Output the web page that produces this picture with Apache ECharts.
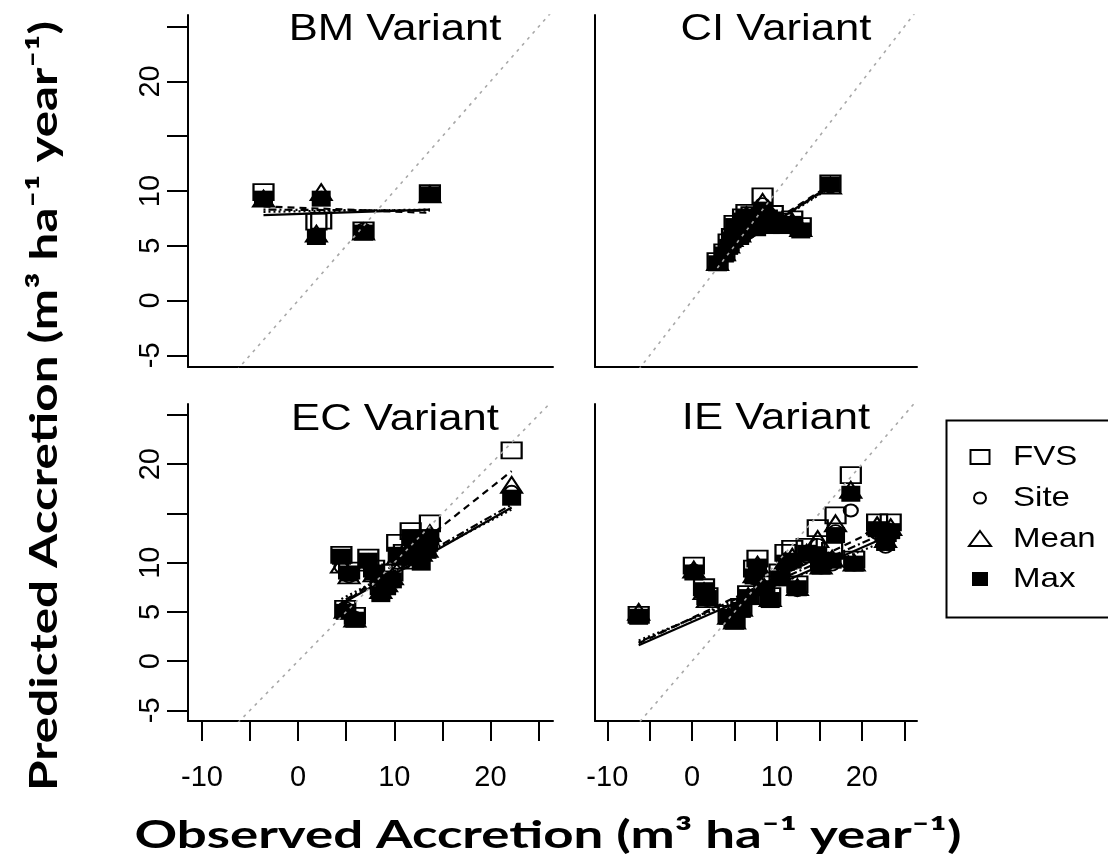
<!DOCTYPE html>
<html>
<head>
<meta charset="utf-8">
<script src="https://cdn.jsdelivr.net/npm/echarts@6/dist/echarts.min.js"></script>
<style>
  html, body { margin: 0; padding: 0; background: #fff; }
  #chart { width: 1108px; height: 865px; }
</style>
</head>
<body>
<div id="chart"></div>
<script>
// Predictor names, in legend order
const seriesNames = ['FVS', 'Site', 'Mean', 'Max'];

// Axis ticks and labelled ticks
const xTicks = [-10, -5, 0, 5, 10, 15, 20, 25];
const xTickLabels = [-10, 0, 10, 20];
const yTicks = [-5, 0, 5, 10, 15, 20, 25];
const yTickLabels = [-5, 0, 5, 10, 20];

// 1:1 reference line extent
const oneToOne = [-8, 28];

// BM variant: observed accretion and the four predictions
const bmObserved = [-3.6, 1.9, 2.4, 6.8, 13.7];
const bmFvs  = [9.9, 7.2, 7.3, 6.4, 9.8];
const bmSite = [9.4, 6.0, 9.4, 6.5, 9.6];
const bmMean = [9.3, 6.1, 9.9, 6.3, 9.7];
const bmMax  = [9.3, 5.8, 9.3, 6.2, 9.7];
// fitted lines: predicted value at lowest and highest observed value
const bmFitFvs  = [8.6, 8.0];
const bmFitSite = [8.1, 8.3];
const bmFitMean = [8.3, 8.2];
const bmFitMax  = [7.8, 8.3];

// CI variant
const ciObserved = [3.0, 3.8, 4.3, 4.7, 5.0, 5.6, 6.0, 6.4, 7.0, 7.6, 8.3, 8.8, 9.2, 9.5, 10.6, 11.8, 12.8, 16.3];
const ciFvs  = [3.6, 4.4, 5.3, 5.8, 7.0, 6.2, 7.6, 8.0, 7.8, 7.0, 9.5, 7.5, 7.1, 7.9, 7.2, 7.4, 6.8, 10.7];
const ciSite = [3.5, 4.3, 5.0, 5.6, 6.7, 6.0, 7.4, 7.7, 7.4, 6.9, 8.8, 7.3, 6.9, 7.6, 6.9, 7.1, 6.5, 10.4];
const ciMean = [3.5, 4.4, 5.1, 5.7, 6.9, 6.1, 7.5, 7.8, 7.6, 7.0, 9.0, 7.4, 7.0, 7.7, 7.0, 7.2, 6.6, 10.5];
const ciMax  = [3.4, 4.2, 4.9, 5.5, 6.8, 5.8, 7.3, 7.6, 7.2, 6.6, 8.3, 7.0, 6.8, 7.4, 6.8, 7.0, 6.4, 10.6];
const ciFitFvs  = [3.9, 10.6];
const ciFitSite = [3.8, 10.3];
const ciFitMean = [3.8, 10.4];
const ciFitMax  = [3.7, 10.5];

// EC variant
const ecObserved = [4.5, 4.9, 5.3, 5.9, 7.3, 7.9, 8.6, 9.2, 9.8, 10.3, 11.0, 11.7, 12.2, 12.8, 13.4, 13.7, 22.2];
const ecFvs  = [10.8, 5.3, 9.2, 4.6, 10.5, 9.4, 7.6, 8.3, 9.0, 12.0, 11.0, 13.2, 12.4, 11.6, 12.0, 14.0, 21.4];
const ecSite = [9.6, 5.4, 8.6, 4.4, 9.9, 8.8, 7.0, 7.7, 8.5, 10.4, 10.0, 12.0, 11.6, 10.8, 11.2, 12.8, 17.2];
const ecMean = [9.8, 5.2, 8.7, 4.3, 10.0, 8.9, 7.2, 7.9, 8.6, 10.6, 10.2, 12.2, 11.8, 11.0, 11.4, 13.0, 17.9];
const ecMax  = [10.6, 5.0, 8.9, 4.2, 10.2, 9.0, 6.8, 7.5, 8.2, 10.8, 10.6, 12.6, 11.7, 10.0, 11.2, 12.6, 16.6];
const ecFitFvs  = [5.6, 19.3];
const ecFitSite = [6.3, 15.4];
const ecFitMean = [6.0, 15.9];
const ecFitMax  = [5.8, 15.6];

// IE variant
const ieObserved = [-6.3, 0.2, 1.4, 1.8, 4.3, 5.0, 5.8, 6.6, 7.3, 7.7, 8.5, 9.2, 10.3, 11.0, 11.8, 12.4, 13.5, 14.8, 15.2, 16.5, 16.9, 18.7, 19.1, 21.8, 22.8, 23.4];
const ieFvs  = [4.7, 9.7, 7.5, 6.6, 4.8, 4.3, 5.5, 6.8, 9.4, 10.4, 7.8, 6.6, 9.0, 11.0, 11.4, 7.8, 11.6, 13.5, 10.2, 11.2, 14.8, 18.9, 10.3, 14.1, 13.0, 14.1];
const ieSite = [4.6, 9.2, 7.0, 6.2, 4.4, 4.1, 5.3, 6.4, 8.4, 9.4, 7.3, 6.3, 8.3, 9.8, 10.0, 7.2, 10.6, 11.8, 9.5, 9.8, 13.2, 15.3, 9.8, 13.0, 11.6, 13.3];
const ieMean = [5.0, 9.3, 7.1, 6.3, 4.6, 4.1, 5.4, 6.6, 8.8, 9.8, 7.5, 6.4, 8.6, 10.2, 10.6, 7.5, 11.0, 12.4, 9.7, 10.4, 14.0, 17.4, 10.0, 13.8, 12.4, 13.6];
const ieMax  = [4.5, 9.0, 7.2, 6.4, 4.5, 4.0, 5.2, 6.5, 8.6, 9.6, 7.4, 6.2, 8.4, 10.0, 10.2, 7.4, 11.0, 10.8, 9.6, 10.2, 12.8, 17.0, 9.9, 13.4, 12.0, 13.2];
const ieFitFvs  = [1.8, 14.0];
const ieFitSite = [2.1, 12.4];
const ieFitMean = [1.9, 13.3];
const ieFitMax  = [1.6, 12.8];

// ---- layout of the 2x2 panel grid ----
const FONT = '"Liberation Sans", Arial, sans-serif';
const xExtent = [-11.45, 26.5];
const panels = [
  { title: 'BM Variant', obs: bmObserved, preds: [bmFvs, bmSite, bmMean, bmMax],
    fits: [bmFitFvs, bmFitSite, bmFitMean, bmFitMax],
    grid: { left: 188, top: 15, width: 365, height: 352 }, yExtent: [-6.07, 26.07],
    xAxisTicks: false, yAxisTicks: true, titlePos: [395, 30] },
  { title: 'CI Variant', obs: ciObserved, preds: [ciFvs, ciSite, ciMean, ciMax],
    fits: [ciFitFvs, ciFitSite, ciFitMean, ciFitMax],
    grid: { left: 595, top: 15, width: 322, height: 352 }, yExtent: [-6.07, 26.07],
    xAxisTicks: false, yAxisTicks: false, titlePos: [776, 30] },
  { title: 'EC Variant', obs: ecObserved, preds: [ecFvs, ecSite, ecMean, ecMax],
    fits: [ecFitFvs, ecFitSite, ecFitMean, ecFitMax],
    grid: { left: 188, top: 404, width: 365, height: 317 }, yExtent: [-6.09, 26.12],
    xAxisTicks: true, yAxisTicks: true, titlePos: [395, 420] },
  { title: 'IE Variant', obs: ieObserved, preds: [ieFvs, ieSite, ieMean, ieMax],
    fits: [ieFitFvs, ieFitSite, ieFitMean, ieFitMax],
    grid: { left: 595, top: 404, width: 322, height: 317 }, yExtent: [-6.09, 26.12],
    xAxisTicks: true, yAxisTicks: false, titlePos: [776, 419] }
];

// marker look of each predictor (open square, open circle, open triangle, filled square)
const openStyle = { color: 'rgba(0,0,0,0)', borderColor: '#000', borderWidth: 2, opacity: 1 };
const markers = [
  { symbol: 'rect', symbolSize: [20, 16], itemStyle: openStyle },
  { symbol: 'circle', symbolSize: [14, 12], itemStyle: openStyle },
  { symbol: 'triangle', symbolSize: [21, 16], itemStyle: openStyle },
  { symbol: 'rect', symbolSize: [19, 16], itemStyle: { color: '#000', borderWidth: 0, opacity: 1 } }
];
const fitTypes = [[7, 5], [2, 3], [2, 3, 8, 3], 'solid'];

const axisLineStyle = { color: '#000', width: 2 };

const grids = [], xAxes = [], yAxes = [], series = [];
panels.forEach((p, i) => {
  grids.push(Object.assign({ outerBoundsMode: 'none', containLabel: false }, p.grid));
  xAxes.push({
    type: 'value', gridIndex: i, min: xExtent[0], max: xExtent[1],
    axisLine: { show: true, onZero: false, lineStyle: axisLineStyle },
    axisTick: { show: p.xAxisTicks, customValues: xTicks, length: 20, inside: false,
                lineStyle: { color: '#000', width: 2 } },
    axisLabel: { show: p.xAxisTicks, customValues: xTickLabels, margin: 42,
                 color: '#000', fontSize: 29, fontFamily: FONT },
    splitLine: { show: false }
  });
  yAxes.push({
    type: 'value', gridIndex: i, min: p.yExtent[0], max: p.yExtent[1],
    axisLine: { show: true, onZero: false, lineStyle: axisLineStyle },
    axisTick: { show: p.yAxisTicks, customValues: yTicks, length: 21, inside: false,
                lineStyle: { color: '#000', width: 2 } },
    axisLabel: { show: p.yAxisTicks, customValues: yTickLabels, margin: 23, rotate: 90,
                 color: '#000', fontSize: 29, fontFamily: FONT },
    splitLine: { show: false }
  });

  // 1:1 line
  series.push({
    type: 'line', xAxisIndex: i, yAxisIndex: i, silent: true, symbol: 'none', z: 6,
    clip: true,
    data: [[oneToOne[0], oneToOne[0]], [oneToOne[1], oneToOne[1]]],
    lineStyle: { color: '#a8a8a8', width: 1.6, type: [3, 5] }
  });

  const lo = Math.min.apply(null, p.obs), hi = Math.max.apply(null, p.obs);
  seriesNames.forEach((name, k) => {
    series.push(Object.assign({
      type: 'scatter', name: name, xAxisIndex: i, yAxisIndex: i, silent: true,
      z: 2 + (k === 3 ? 1 : 0),
      data: p.obs.map((x, j) => [x, p.preds[k][j]])
    }, markers[k]));
    series.push({
      type: 'line', name: name + ' fit', xAxisIndex: i, yAxisIndex: i, silent: true,
      symbol: 'none', z: 4,
      data: [[lo, p.fits[k][0]], [hi, p.fits[k][1]]],
      lineStyle: { color: '#000', width: 2.2, type: fitTypes[k], opacity: 1 }
    });
  });
});

// panel titles, axis titles and legend box
const graphics = [];
panels.forEach(p => {
  graphics.push({
    type: 'text', x: p.titlePos[0], y: p.titlePos[1], scaleX: 1.18, silent: true,
    style: { text: p.title, fill: '#000', fontSize: 37, fontFamily: FONT,
             align: 'center', verticalAlign: 'middle', textAlign: 'center', textVerticalAlign: 'middle' }
  });
});

const titleFont = 'bold 38px Lato';
function stretchTo(text, font, target) {
  const ctx = document.createElement('canvas').getContext('2d');
  ctx.font = font;
  return target / ctx.measureText(text).width;
}
const xTitle = 'Observed Accretion (m\u00B3 ha\u207B\u00B9 year\u207B\u00B9)';
const yTitle = 'Predicted Accretion (m\u00B3 ha\u207B\u00B9 year\u207B\u00B9)';
graphics.push({
  type: 'text', x: 548, y: 836, silent: true, scaleX: stretchTo(xTitle, titleFont, 827),
  style: { text: xTitle, fill: '#000', fontSize: 38, fontWeight: 'bold', fontFamily: 'Lato',
           align: 'center', verticalAlign: 'middle', textAlign: 'center', textVerticalAlign: 'middle' }
});
graphics.push({
  type: 'text', x: 45, y: 406, rotation: Math.PI / 2, silent: true,
  scaleX: stretchTo(yTitle, titleFont, 770),
  style: { text: yTitle, fill: '#000', fontSize: 38, fontWeight: 'bold', fontFamily: 'Lato',
           align: 'center', verticalAlign: 'middle', textAlign: 'center', textVerticalAlign: 'middle' }
});

// legend
const legendX = 980, legendRows = [457, 498, 539, 579], legendTextX = 1013;
graphics.push({
  type: 'rect', silent: true, shape: { x: 946.5, y: 420.5, width: 220, height: 197 },
  style: { fill: '#fff', stroke: '#000', lineWidth: 2 }, z: 10
});
graphics.push({ type: 'rect', silent: true, z: 11,
  shape: { x: legendX - 9.5, y: legendRows[0] - 7, width: 19, height: 14 },
  style: { fill: 'none', stroke: '#000', lineWidth: 2 } });
graphics.push({ type: 'ellipse', silent: true, z: 11,
  shape: { cx: legendX, cy: legendRows[1], rx: 6, ry: 5.5 },
  style: { fill: 'none', stroke: '#000', lineWidth: 2 } });
graphics.push({ type: 'polygon', silent: true, z: 11,
  shape: { points: [[legendX, legendRows[2] - 8], [legendX + 11, legendRows[2] + 7], [legendX - 11, legendRows[2] + 7]] },
  style: { fill: 'none', stroke: '#000', lineWidth: 2 } });
graphics.push({ type: 'rect', silent: true, z: 11,
  shape: { x: legendX - 8, y: legendRows[3] - 7, width: 16, height: 14 },
  style: { fill: '#000' } });
seriesNames.forEach((name, k) => {
  graphics.push({
    type: 'text', x: legendTextX, y: legendRows[k], scaleX: 1.18, silent: true, z: 11,
    style: { text: name, fill: '#000', fontSize: 28, fontFamily: FONT,
             align: 'left', verticalAlign: 'middle', textAlign: 'left', textVerticalAlign: 'middle' }
  });
});

const chart = echarts.init(document.getElementById('chart'), null, { renderer: 'canvas' });
chart.setOption({
  animation: false,
  backgroundColor: '#fff',
  grid: grids,
  xAxis: xAxes,
  yAxis: yAxes,
  series: series,
  graphic: graphics
});
</script>
</body>
</html>
